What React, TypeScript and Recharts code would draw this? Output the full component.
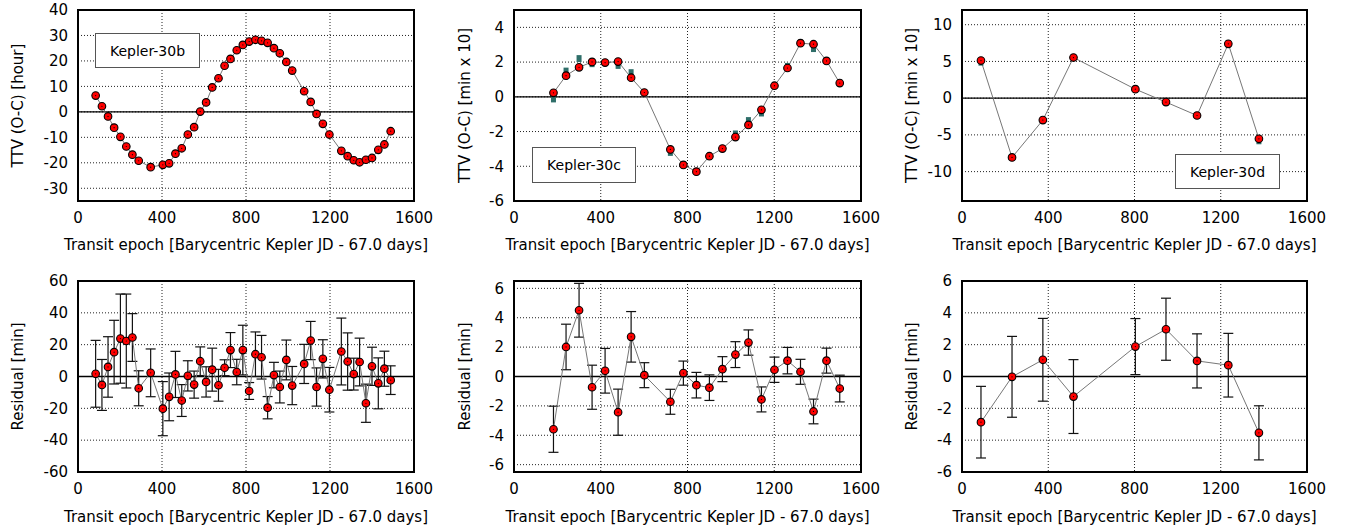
import React from 'react';
import {
  ComposedChart,
  Line,
  XAxis,
  YAxis,
  CartesianGrid,
  ReferenceLine,
  ReferenceArea,
  ErrorBar,
} from 'recharts';

const epochTicks = [0, 400, 800, 1200, 1600];

// Kepler-30b
const bEpoch = [84, 114, 143, 172, 202, 230, 259, 289, 346, 404, 434, 464, 494, 523, 553, 582, 610, 639, 669, 698, 726, 756, 785, 815, 845, 874, 903, 933, 961, 992, 1020, 1077, 1108, 1136, 1166, 1197, 1254, 1284, 1313, 1341, 1371, 1400, 1430, 1459, 1489];
const bTtv = [6.4, 2.2, -1.8, -6.2, -9.8, -13.6, -16.8, -19.2, -21.7, -20.8, -20.2, -16.4, -14.3, -8.9, -6.0, 0.1, 3.7, 9.6, 13.2, 18.1, 20.8, 24.2, 26.3, 27.6, 28.3, 27.9, 27.1, 25.0, 23.0, 19.6, 16.2, 8.1, 3.9, -0.8, -4.7, -8.9, -15.3, -17.4, -19.0, -19.8, -18.8, -18.1, -14.9, -12.8, -7.6];
const bResid = [1.7, -5.3, 6.0, 15.3, 23.8, 22.3, 24.5, -7.4, 2.3, -20.2, -12.8, 1.3, -15.1, 0.4, -5.1, 9.6, -3.4, 4.3, -5.5, 5.5, 16.6, 2.8, 16.6, -9.1, 14.0, 12.1, -19.6, 0.9, -6.6, 10.4, -5.7, 7.9, 22.6, -6.6, 11.1, -8.3, 15.7, 9.4, 1.5, 9.1, -16.8, 6.4, -4.3, 4.9, -2.3];
const bResidErr = [21, 16, 19, 20, 28, 29.5, 15, 11, 15, 17, 15, 14.5, 10, 9.5, 8.5, 9, 9.5, 13.5, 10, 5, 11, 8, 15.6, 5.3, 14, 13.7, 7, 8, 10, 12.5, 12, 12.3, 12, 12, 12, 14, 21, 18, 10, 15, 12, 12, 16, 11, 9];
const bTtvTicks = [-30, -20, -10, 0, 10, 20, 30, 40];
const bResidTicks = [-60, -40, -20, 0, 20, 40, 60];

// Kepler-30c
const cEpoch = [182, 240, 300, 360, 420, 480, 540, 601, 721, 781, 841, 901, 961, 1021, 1081, 1141, 1201, 1261, 1321, 1381, 1441, 1502];
const cTtv = [0.23, 1.22, 1.7, 2.01, 1.97, 2.03, 1.1, 0.25, -3.03, -3.92, -4.31, -3.42, -2.98, -2.32, -1.62, -0.75, 0.64, 1.66, 3.09, 3.03, 2.07, 0.79];
const cTtvAlt = [-0.12, 1.48, 2.2, 1.91, 1.97, 1.81, 1.39, 0.25, -3.2, -3.92, -4.31, -3.42, -2.98, -2.14, -1.37, -0.93, 0.64, 1.75, 3.09, 2.78, 2.07, 0.79];
const cResid = [-3.59, 2.01, 4.51, -0.73, 0.39, -2.43, 2.7, 0.09, -1.72, 0.23, -0.59, -0.76, 0.5, 1.49, 2.31, -1.56, 0.46, 1.08, 0.32, -2.38, 1.08, -0.82];
const cResidErr = [1.57, 1.55, 1.83, 1.5, 1.52, 1.57, 1.72, 0.85, 0.85, 0.82, 0.87, 0.87, 0.85, 0.88, 0.86, 0.85, 0.86, 0.9, 0.85, 0.84, 0.85, 0.91];
const cTtvTicks = [-6, -4, -2, 0, 2, 4];
const cResidTicks = [-6, -4, -2, 0, 2, 4, 6];

// Kepler-30d
const dEpoch = [88, 232, 375, 517, 804, 946, 1090, 1235, 1377];
const dTtv = [5.12, -8.07, -2.99, 5.53, 1.22, -0.54, -2.36, 7.39, -5.53];
const dTtvAlt = [4.9, -8.07, -2.99, 5.53, 1.22, -0.54, -2.36, 7.39, -5.8];
const dResid = [-2.87, -0.02, 1.05, -1.26, 1.88, 2.97, 0.98, 0.71, -3.54];
const dResidErr = [2.25, 2.54, 2.6, 2.32, 1.76, 1.95, 1.7, 2.0, 1.7];
const dTtvTicks = [-10, -5, 0, 5, 10];
const dResidTicks = [-6, -4, -2, 0, 2, 4, 6];

const FONT = '"DejaVu Sans", sans-serif';
const X_TITLE = 'Transit epoch [Barycentric Kepler JD - 67.0 days]';

const RedDot = (props: any) => {
  const { cx, cy } = props;
  if (cx == null || cy == null) return null;
  return (
    <g>
      <circle cx={cx} cy={cy} r={3.8} fill="#ff0000" stroke="#000" strokeWidth={1.1} />
      <circle cx={cx} cy={cy} r={0.6} fill="#000" />
    </g>
  );
};

const TealDot = (props: any) => {
  const { cx, cy } = props;
  if (cx == null || cy == null) return null;
  return <rect x={cx - 2.5} y={cy - 3.5} width={5} height={7} fill="#2e6e69" />;
};

type PanelProps = {
  left: number;
  top: number;
  width: number;
  height: number;
  yAxisWidth: number;
  marginRight: number;
  marginTop: number;
  xAxisHeight: number;
  data: any[];
  yDomain: [number, number];
  yTicks: number[];
  yLabel: string;
  yLabelX: number;
  hasErr?: boolean;
  hasAlt?: boolean;
};

const tickStyle = { fill: '#000', fontSize: 15, fontFamily: FONT };

function Panel(p: PanelProps) {
  return (
    <div style={{ position: 'absolute', left: p.left, top: p.top }}>
      <ComposedChart
        width={p.width}
        height={p.height}
        data={p.data}
        margin={{ top: p.marginTop, right: p.marginRight, bottom: 0, left: 0 }}
      >
        <CartesianGrid stroke="#222" strokeDasharray="1 2" />
        <XAxis
          dataKey="x"
          type="number"
          domain={[0, 1600]}
          ticks={epochTicks}
          allowDataOverflow
          height={p.xAxisHeight}
          tickLine={false}
          axisLine={false}
          tickSize={0}
          tickMargin={11}
          tick={tickStyle}
          label={{
            value: X_TITLE,
            position: 'insideBottom',
            offset: 10,
            style: { fontSize: 15, fontFamily: FONT, fill: '#000' },
          }}
        />
        <YAxis
          type="number"
          domain={p.yDomain}
          ticks={p.yTicks}
          allowDataOverflow
          width={p.yAxisWidth}
          tickLine={false}
          axisLine={false}
          tickSize={0}
          tickMargin={10}
          tick={tickStyle}
          label={{
            value: p.yLabel,
            angle: -90,
            position: 'insideLeft',
            offset: p.yLabelX,
            style: { fontSize: 15, fontFamily: FONT, fill: '#000', textAnchor: 'middle' },
          }}
        />
        <ReferenceLine y={0} stroke="#000" strokeWidth={1.3} />
        {p.hasAlt && (
          <Line dataKey="alt" stroke="none" dot={<TealDot />} activeDot={false} isAnimationActive={false} />
        )}
        <Line
          dataKey="y"
          type="linear"
          stroke="#777"
          strokeWidth={1}
          dot={<RedDot />}
          activeDot={false}
          isAnimationActive={false}
        >
          {p.hasErr && <ErrorBar dataKey="err" width={5} stroke="#111" strokeWidth={1.2} direction="y" />}
        </Line>
        <ReferenceArea
          x1={0}
          x2={1600}
          y1={p.yDomain[0]}
          y2={p.yDomain[1]}
          fill="none"
          stroke="#000"
          strokeWidth={2}
          ifOverflow="visible"
        />
      </ComposedChart>
    </div>
  );
}

const boxStyle: React.CSSProperties = {
  position: 'absolute',
  border: '1px solid #555',
  background: '#fff',
  fontFamily: FONT,
  fontSize: 14,
  color: '#000',
  display: 'flex',
  alignItems: 'center',
  justifyContent: 'center',
  boxSizing: 'border-box',
};

export default function App() {
  const bTop = bEpoch.map((x, i) => ({ x, y: bTtv[i] }));
  const bBottom = bEpoch.map((x, i) => ({ x, y: bResid[i], err: bResidErr[i] }));
  const cTop = cEpoch.map((x, i) => ({ x, y: cTtv[i], alt: cTtvAlt[i] }));
  const cBottom = cEpoch.map((x, i) => ({ x, y: cResid[i], err: cResidErr[i] }));
  const dTop = dEpoch.map((x, i) => ({ x, y: dTtv[i], alt: dTtvAlt[i] }));
  const dBottom = dEpoch.map((x, i) => ({ x, y: dResid[i], err: dResidErr[i] }));

  const top = { top: 0, height: 260, marginTop: 10, xAxisHeight: 59 };
  const bottom = { top: 260, height: 272, marginTop: 21, xAxisHeight: 60 };
  const col1 = { left: 0, width: 450, yAxisWidth: 78, marginRight: 36, yLabelX: 18 };
  const col2 = { left: 450, width: 450, yAxisWidth: 64, marginRight: 39, yLabelX: 15 };
  const col3 = { left: 900, width: 456, yAxisWidth: 62, marginRight: 49, yLabelX: 12 };

  return (
    <div style={{ position: 'absolute', left: 0, top: 0, width: 1356, height: 532, background: '#fff' }}>
      <Panel {...top} {...col1} data={bTop} yDomain={[-35, 40]} yTicks={bTtvTicks} yLabel="TTV (O-C) [hour]" />
      <Panel {...top} {...col2} data={cTop} yDomain={[-6, 5]} yTicks={cTtvTicks} yLabel="TTV (O-C) [min x 10]" hasAlt />
      <Panel {...top} {...col3} data={dTop} yDomain={[-14, 12]} yTicks={dTtvTicks} yLabel="TTV (O-C) [min x 10]" hasAlt />
      <Panel {...bottom} {...col1} data={bBottom} yDomain={[-60, 60]} yTicks={bResidTicks} yLabel="Residual [min]" hasErr />
      <Panel {...bottom} {...col2} data={cBottom} yDomain={[-6.5, 6.5]} yTicks={cResidTicks} yLabel="Residual [min]" hasErr />
      <Panel {...bottom} {...col3} data={dBottom} yDomain={[-6, 6]} yTicks={dResidTicks} yLabel="Residual [min]" hasErr />

      <div style={{ ...boxStyle, left: 95, top: 33, width: 105, height: 35 }}>Kepler-30b</div>
      <div style={{ ...boxStyle, left: 532, top: 147, width: 104, height: 36 }}>Kepler-30c</div>
      <div style={{ ...boxStyle, left: 1175, top: 154, width: 105, height: 35 }}>Kepler-30d</div>
    </div>
  );
}
